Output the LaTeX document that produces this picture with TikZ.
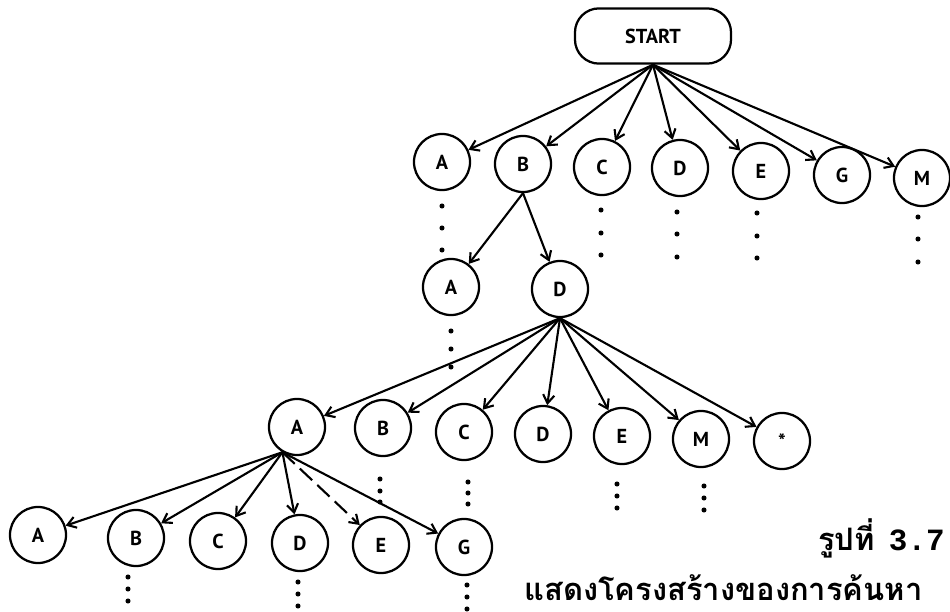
\documentclass[tikz,border=0pt]{standalone}
\usepackage{fontspec}
\setsansfont{PT Sans}
\newfontfamily\thaifont[Script=Thai]{Loma}
\newfontfamily\capmono{Liberation Mono}
\usetikzlibrary{arrows.meta}
\tikzset{
	>={Straight Barb[length=6pt,width=8pt]},
	startbox/.style={
		rectangle,
		rounded corners=0.6cm,
		draw, line width=1.6pt,
		minimum width=3.9cm,
		minimum height=1.38cm,
		font=\sffamily\bfseries\Large},
	state/.style={
		circle,
		draw, line width=1.6pt,
		minimum size=1.4cm,
		inner sep=0pt,
		font=\sffamily\bfseries\Large},
	link/.style={draw, line width=1.5pt, ->},
	caption/.style={anchor=base west, inner sep=0pt,
		font=\thaifont\bfseries\fontsize{22}{26}\selectfont},
}
\newcommand*\moredots[2]{\foreach \yy in {#2}{\fill (#1,\yy) circle (1.8pt);}}

\begin{document}
\begin{tikzpicture}
[x=0.025cm, y=-0.025cm]
\useasboundingbox (0,0) rectangle (950,612);
\node[startbox] (start) at (653,36) {START};

\node[state] (sa) at (442,162) {A};
\node[state] (sb) at (523,164) {B};
\node[state] (sc) at (602,167) {C};
\node[state] (sd) at (680,168) {D};
\node[state] (se) at (761,171) {E};
\node[state] (sg) at (842,175) {G};
\node[state] (sm) at (922,178) {M};

\node[state] (ba) at (451,287) {A};
\node[state] (bd) at (560,289) {D};

\node[state] (da) at (297,427) {A};
\node[state] (db) at (383,428) {B};
\node[state] (dc) at (464,432) {C};
\node[state] (dd) at (543,434) {D};
\node[state] (de) at (622,436) {E};
\node[state] (dm) at (701,439) {M};
\node[state] (dstar) at (782,441) {*};

\node[state] (aa) at (38,535) {A};
\node[state] (ab) at (136,538) {B};
\node[state] (ac) at (218,541) {C};
\node[state] (ad) at (300,543) {D};
\node[state] (ae) at (381,545) {E};
\node[state] (ag) at (464,547) {G};

\foreach \n in {sa,sb,sc,sd,se,sg,sm}
	\draw[link] (start.south) -- (\n);
\foreach \n in {ba,bd}
	\draw[link] (sb.south) -- (\n);
\foreach \n in {da,db,dc,dd,de,dm,dstar}
	\draw[link] (bd.south) -- (\n);
\foreach \n in {aa,ab,ac,ad,ag}
	\draw[link] (da.240) -- (\n);
\draw[link, dash pattern=on 12pt off 5pt] (da.240) -- (ae);

\moredots{442}{206,228,250}
\moredots{601}{210,233,255}
\moredots{677}{212,234,257}
\moredots{757}{213,236,258}
\moredots{918}{217,239,262}
\moredots{451}{331,349,367}
\moredots{380}{479,491,502}
\moredots{468}{482,493,504}
\moredots{617}{484,496,508}
\moredots{704}{486,498,510}
\moredots{128}{577,589,601}
\moredots{298}{582,594,606}
\moredots{467}{585,597,609}

\node[caption] (fig) at (818,550) {รูปที่\hspace{10pt}{\capmono 3.7}};
\node[caption] (title) at (524,600) {แสดงโครงสร้างของการค้นหา};
\end{tikzpicture}
\end{document}
